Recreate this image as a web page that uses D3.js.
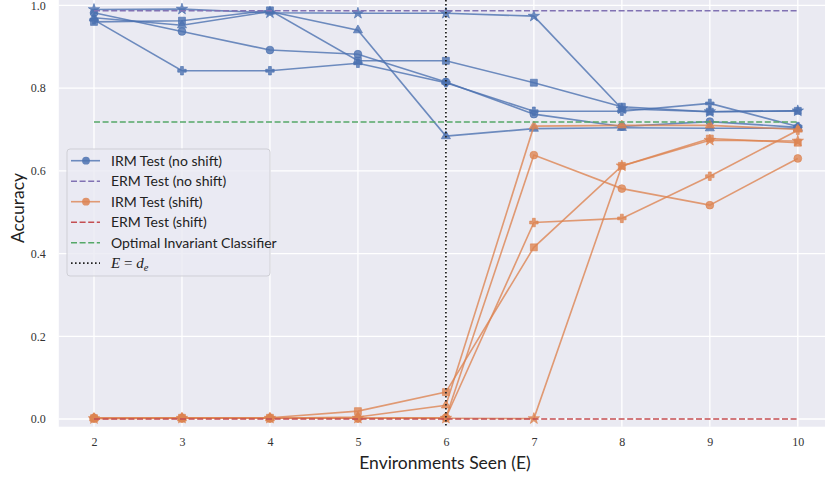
<!DOCTYPE html>
<html>
<head>
<meta charset="utf-8">
<script src="https://cdn.jsdelivr.net/npm/d3@7"></script>
<style>
  body { margin: 0; background: #fff; }
  svg { display: block; }
</style>
</head>
<body>
<div id="chart"></div>
<script>
// ─── DATA ─────────────────────────────────────────────────────────────────────
const envs = [2, 3, 4, 5, 6, 7, 8, 9, 10];
const markers = ["circle", "square", "triangle", "star", "plus"];

// IRM test accuracy, no shift (one row per run / marker)
const irmNoShift = [
  [0.982, 0.937, 0.892, 0.882, 0.815, 0.737, 0.707, 0.719, 0.705],
  [0.960, 0.963, 0.988, 0.866, 0.866, 0.813, 0.755, 0.743, 0.745],
  [0.970, 0.952, 0.985, 0.940, 0.684, 0.702, 0.704, 0.703, 0.703],
  [0.990, 0.991, 0.982, 0.981, 0.981, 0.974, 0.750, 0.743, 0.745],
  [0.965, 0.842, 0.842, 0.860, 0.813, 0.744, 0.744, 0.763, 0.707]
];

// IRM test accuracy, shift
const irmShift = [
  [0.002, 0.002, 0.002, 0.002, 0.003, 0.638, 0.557, 0.517, 0.630],
  [0.002, 0.003, 0.003, 0.019, 0.065, 0.415, 0.612, 0.678, 0.668],
  [0.002, 0.002, 0.002, 0.005, 0.033, 0.708, 0.710, 0.710, 0.700],
  [0.001, 0.002, 0.002, 0.002, 0.002, 0.001, 0.612, 0.674, 0.672],
  [0.002, 0.002, 0.002, 0.002, 0.003, 0.475, 0.485, 0.587, 0.698]
];

const ermNoShift = [0.987, 0.987, 0.987, 0.987, 0.987, 0.987, 0.987, 0.987, 0.987];
const ermShift   = [0.0, 0.0, 0.0, 0.0, 0.0, 0.0, 0.0, 0.0, 0.0];
const optimal    = [0.718, 0.718, 0.718, 0.718, 0.718, 0.718, 0.718, 0.718, 0.718];
const envBoundary = 6;

const yTicks = [0.0, 0.2, 0.4, 0.6, 0.8, 1.0];

const legendLabels = [
  "IRM Test (no shift)",
  "ERM Test (no shift)",
  "IRM Test (shift)",
  "ERM Test (shift)",
  "Optimal Invariant Classifier"
];

// ─── SETUP ────────────────────────────────────────────────────────────────────
const W = 825, H = 479;
const plot = { left: 58.8, right: 833, top: 0, bottom: 426.7 };

const colors = {
  blue: "#4C72B0", orange: "#DD8452", green: "#55A868",
  red: "#C44E52", purple: "#8172B3"
};

const svg = d3.select("#chart").append("svg")
  .attr("width", W).attr("height", H);

const x = d3.scaleLinear().domain([1.6, 10.4]).range([plot.left, plot.right]);
const y = d3.scaleLinear().domain([-0.0186, 1.013]).range([plot.bottom, plot.top]);

// background
svg.append("rect")
  .attr("x", plot.left).attr("y", plot.top)
  .attr("width", plot.right - plot.left).attr("height", plot.bottom - plot.top)
  .attr("fill", "#EAEAF2");

// grid
const grid = svg.append("g");
grid.selectAll(".gx").data(envs).enter().append("line")
  .attr("x1", d => x(d)).attr("x2", d => x(d))
  .attr("y1", plot.top).attr("y2", plot.bottom)
  .attr("stroke", "#fff").attr("stroke-width", 1.3);
grid.selectAll(".gy").data(yTicks).enter().append("line")
  .attr("x1", plot.left).attr("x2", plot.right)
  .attr("y1", d => y(d)).attr("y2", d => y(d))
  .attr("stroke", "#fff").attr("stroke-width", 1.3);

// axes (no ticks marks, no spine)
const xAxis = svg.append("g")
  .attr("transform", `translate(0,${plot.bottom})`)
  .call(d3.axisBottom(x).tickValues(envs).tickSize(0).tickPadding(11).tickFormat(d3.format("d")));
const yAxis = svg.append("g")
  .attr("transform", `translate(${plot.left},0)`)
  .call(d3.axisLeft(y).tickValues(yTicks).tickSize(0).tickPadding(13).tickFormat(d3.format(".1f")));
[xAxis, yAxis].forEach(a => {
  a.select(".domain").remove();
  a.selectAll("text")
    .style("font-family", "'Liberation Serif', 'DejaVu Serif', serif")
    .style("font-size", "12px")
    .attr("fill", "#333");
});

// axis titles
svg.append("text")
  .attr("x", 445).attr("y", 469)
  .attr("text-anchor", "middle")
  .style("font-family", "Lato, 'Open Sans', sans-serif")
  .style("font-size", "17.5px")
  .attr("fill", "#222")
  .text("Environments Seen (E)");
svg.append("text")
  .attr("transform", "translate(24,208) rotate(-90)")
  .attr("text-anchor", "middle")
  .style("font-family", "Lato, 'Open Sans', sans-serif")
  .style("font-size", "17.5px")
  .attr("fill", "#222")
  .text("Accuracy");

// ─── MARKS ────────────────────────────────────────────────────────────────────
const symbolType = {
  circle: d3.symbolCircle, square: d3.symbolSquare, triangle: d3.symbolTriangle,
  star: d3.symbolStar, plus: d3.symbolCross
};
const symbolSize = { circle: 48, square: 48, triangle: 36, star: 40, plus: 40 };

const line = d3.line().x((d, i) => x(envs[i])).y(d => y(d));

function drawRuns(runs, color) {
  runs.forEach((vals, r) => {
    const g = svg.append("g");
    g.append("path")
      .attr("d", line(vals))
      .attr("fill", "none")
      .attr("stroke", color).attr("stroke-width", 1.6)
      .attr("stroke-opacity", 0.8);
    const m = markers[r];
    g.selectAll("path.m").data(vals).enter().append("path")
      .attr("class", "m")
      .attr("transform", (d, i) => `translate(${x(envs[i])},${y(d)})`)
      .attr("d", d3.symbol().type(symbolType[m]).size(symbolSize[m]))
      .attr("fill", color).attr("fill-opacity", 0.8)
      .attr("stroke", color).attr("stroke-opacity", 0.8).attr("stroke-width", 0.8);
  });
}

function drawDashed(vals, color) {
  svg.append("path")
    .attr("d", line(vals))
    .attr("fill", "none")
    .attr("stroke", color).attr("stroke-width", 1.6)
    .attr("stroke-dasharray", "6,2.6");
}

drawRuns(irmNoShift, colors.blue);
drawDashed(ermNoShift, colors.purple);
drawRuns(irmShift, colors.orange);
drawDashed(ermShift, colors.red);
drawDashed(optimal, colors.green);

svg.append("line")
  .attr("x1", x(envBoundary)).attr("x2", x(envBoundary))
  .attr("y1", plot.top).attr("y2", plot.bottom)
  .attr("stroke", "#222").attr("stroke-width", 1.8)
  .attr("stroke-dasharray", "1.6,2.4");

// ─── LEGEND ───────────────────────────────────────────────────────────────────
const lg = svg.append("g").attr("transform", "translate(67,149)");
lg.append("rect")
  .attr("width", 203).attr("height", 127).attr("rx", 3)
  .attr("fill", "#EAEAF2").attr("fill-opacity", 0.8)
  .attr("stroke", "#CFCFD6").attr("stroke-width", 1);

const handles = [
  { color: colors.blue, dash: null, marker: true },
  { color: colors.purple, dash: "6,2.6", marker: false },
  { color: colors.orange, dash: null, marker: true },
  { color: colors.red, dash: "6,2.6", marker: false },
  { color: colors.green, dash: "6,2.6", marker: false }
];
const rowY = i => 11.7 + i * 20.5;

handles.forEach((h, i) => {
  const row = lg.append("g").attr("transform", `translate(0,${rowY(i)})`);
  row.append("line")
    .attr("x1", 4).attr("x2", 33)
    .attr("stroke", h.color).attr("stroke-width", 1.6)
    .attr("stroke-opacity", h.marker ? 0.8 : 1)
    .attr("stroke-dasharray", h.dash);
  if (h.marker) {
    row.append("circle").attr("cx", 19).attr("r", 3.9)
      .attr("fill", h.color).attr("fill-opacity", 0.85);
  }
  row.append("text")
    .attr("x", 44).attr("y", 5)
    .style("font-family", "Lato, 'Open Sans', sans-serif")
    .style("font-size", "14px")
    .attr("fill", "#222")
    .text(legendLabels[i]);
});

// E = d_e entry
const last = lg.append("g").attr("transform", `translate(0,${rowY(5)})`);
last.append("line")
  .attr("x1", 4).attr("x2", 33)
  .attr("stroke", "#222").attr("stroke-width", 1.8)
  .attr("stroke-dasharray", "1.6,2.4");
const math = last.append("text")
  .attr("x", 44).attr("y", 5)
  .style("font-family", "'Liberation Serif', 'DejaVu Serif', serif")
  .style("font-size", "15px")
  .attr("fill", "#222");
math.append("tspan").style("font-style", "italic").text("E");
math.append("tspan").text(" = ");
math.append("tspan").style("font-style", "italic").text("d");
math.append("tspan").style("font-style", "italic").style("font-size", "10.5px").attr("dy", 3).text("e");
</script>
</body>
</html>
